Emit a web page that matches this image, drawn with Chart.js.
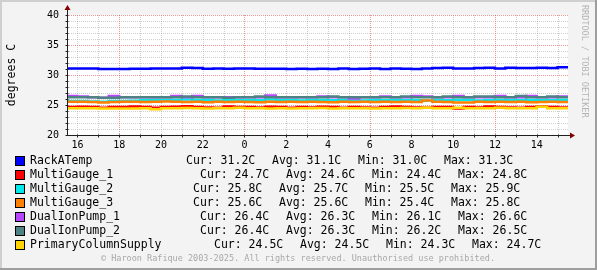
<!DOCTYPE html>
<html>
<head>
<meta charset="utf-8">
<script src="https://cdn.jsdelivr.net/npm/chart.js@4.4.1/dist/chart.umd.min.js"></script>
<style>
  html, body { margin: 0; padding: 0; background: #f3f3f3; }
  #wrap { width: 597px; height: 270px; }
</style>
</head>
<body>
<div id="wrap"><canvas id="temps" width="597" height="270"></canvas></div>
<script>
// time in hours since midnight of the first day (15:30 -> 15:30 next day)
const times = [15.5, 16, 16.5, 17, 17.5, 18, 18.5, 19, 19.5, 20, 20.5, 21, 21.5, 22, 22.5, 23, 23.5,
    24, 24.5, 25, 25.5, 26, 26.5, 27, 27.5, 28, 28.5, 29, 29.5, 30, 30.5, 31, 31.5, 32, 32.5,
    33, 33.5, 34, 34.5, 35, 35.5, 36, 36.5, 37, 37.5, 38, 38.5, 39, 39.5];
const hourTicks = [16, 17, 18, 19, 20, 21, 22, 23, 24, 25, 26, 27, 28, 29, 30, 31, 32, 33, 34, 35, 36, 37, 38, 39];
const degreeTicks = [20, 21, 22, 23, 24, 25, 26, 27, 28, 29, 30, 31, 32, 33, 34, 35, 36, 37, 38, 39, 40];

const rackATemp = [31.1, 31.1, 31.1, 31.0, 31.0, 31.0, 31.05, 31.05, 31.1, 31.1, 31.1, 31.2, 31.15, 31.05, 31.1, 31.05, 31.1,
    31.1, 31.05, 31.05, 31.05, 31.0, 31.05, 31.0, 31.05, 31.0, 31.1, 31.0, 31.05, 31.1, 31.0, 31.1, 31.05, 31.0, 31.1,
    31.15, 31.2, 31.1, 31.1, 31.15, 31.2, 31.1, 31.2, 31.15, 31.15, 31.2, 31.15, 31.3, 31.2];
const multiGauge1 = [24.65, 24.7, 24.65, 24.55, 24.65, 24.65, 24.75, 24.65, 24.55, 24.65, 24.7, 24.8, 24.65, 24.6, 24.55, 24.75, 24.65,
    24.65, 24.6, 24.7, 24.65, 24.55, 24.65, 24.6, 24.7, 24.65, 24.55, 24.65, 24.6, 24.55, 24.65, 24.75, 24.65, 24.6, 24.55,
    24.65, 24.65, 24.4, 24.65, 24.6, 24.75, 24.65, 24.6, 24.55, 24.65, 24.75, 24.65, 24.6, 24.7];
const multiGauge2 = [25.65, 25.65, 25.6, 25.55, 25.65, 25.65, 25.7, 25.8, 25.85, 25.85, 25.85, 25.9, 25.85, 25.85, 25.75, 25.85, 25.85,
    25.8, 25.85, 25.9, 25.85, 25.85, 25.75, 25.85, 25.85, 25.8, 25.85, 25.85, 25.75, 25.85, 25.8, 25.85, 25.85, 25.8, 25.75,
    25.85, 25.8, 25.85, 25.85, 25.75, 25.85, 25.85, 25.8, 25.85, 25.85, 25.8, 25.85, 25.85, 25.8];
const multiGauge3 = [25.55, 25.55, 25.5, 25.4, 25.5, 25.55, 25.55, 25.5, 25.55, 25.6, 25.55, 25.5, 25.55, 25.45, 25.55, 25.5, 25.55,
    25.5, 25.45, 25.55, 25.5, 25.55, 25.5, 25.55, 25.5, 25.45, 25.55, 25.5, 25.55, 25.5, 25.55, 25.5, 25.55, 25.5, 25.75,
    25.55, 25.5, 25.4, 25.4, 25.55, 25.5, 25.55, 25.5, 25.55, 25.45, 25.5, 25.55, 25.5, 25.55];
const dualIonPump1 = [26.5, 26.4, 26.3, 26.2, 26.5, 26.3, 26.3, 26.3, 26.3, 26.3, 26.5, 26.3, 26.5, 26.3, 26.3, 26.3, 26.3,
    26.3, 26.3, 26.6, 26.3, 26.3, 26.3, 26.3, 26.4, 26.3, 26.3, 26.1, 26.3, 26.3, 26.4, 26.3, 26.3, 26.5, 26.4,
    26.3, 26.3, 26.5, 26.3, 26.3, 26.3, 26.5, 26.3, 26.3, 26.5, 26.3, 26.3, 26.4, 26.4];
const dualIonPump2 = [26.3, 26.3, 26.3, 26.2, 26.2, 26.3, 26.3, 26.3, 26.3, 26.3, 26.3, 26.4, 26.3, 26.3, 26.3, 26.2, 26.3,
    26.3, 26.4, 26.3, 26.3, 26.3, 26.3, 26.3, 26.3, 26.4, 26.3, 26.3, 26.3, 26.3, 26.3, 26.3, 26.4, 26.3, 26.3,
    26.3, 26.4, 26.3, 26.3, 26.4, 26.4, 26.3, 26.3, 26.5, 26.3, 26.3, 26.4, 26.3, 26.4];
const primaryColumnSupply = [24.45, 24.45, 24.45, 24.4, 24.4, 24.4, 24.4, 24.45, 24.3, 24.45, 24.45, 24.5, 24.45, 24.4, 24.45, 24.45, 24.55,
    24.45, 24.45, 24.4, 24.45, 24.4, 24.45, 24.45, 24.5, 24.4, 24.45, 24.45, 24.45, 24.4, 24.45, 24.45, 24.5, 24.45, 24.55,
    24.45, 24.45, 24.55, 24.45, 24.45, 24.45, 24.55, 24.45, 24.45, 24.45, 24.7, 24.45, 24.45, 24.5];

const seriesNames = ['RackATemp', 'MultiGauge_1', 'MultiGauge_2', 'MultiGauge_3', 'DualIonPump_1', 'DualIonPump_2', 'PrimaryColumnSupply'];
const curValues = [31.2, 24.7, 25.8, 25.6, 26.4, 26.4, 24.5];
const avgValues = [31.1, 24.6, 25.7, 25.6, 26.3, 26.3, 24.5];
const minValues = [31.0, 24.4, 25.5, 25.4, 26.1, 26.2, 24.3];
const maxValues = [31.3, 24.8, 25.9, 25.8, 26.6, 26.5, 24.7];

// styles
const seriesColors = ['#0000ff', '#ff0000', '#00e8e8', '#ff8000', '#b848ff', '#4f8383', '#ffd400'];
const statsX = [186, 200, 193, 193, 200, 200, 214];  // where "Cur:" starts on each legend row
const MONO = '"DejaVu Sans Mono", monospace';

const allSeries = [rackATemp, multiGauge1, multiGauge2, multiGauge3, dualIonPump1, dualIonPump2, primaryColumnSupply];

const datasets = allSeries.map((values, i) => ({
    label: seriesNames[i],
    data: values.map((v, j) => ({ x: times[j], y: v })),
    borderColor: seriesColors[i],
    backgroundColor: seriesColors[i],
    borderWidth: 2.5,
    pointRadius: 0,
    stepped: true,
    fill: false,
    order: 20 - i  // later series drawn on top, like rrdtool
}));

function hourLabel(v) {
    return (v % 2 === 0) ? String(v % 24) : '';
}

const rrdLook = {
    id: 'rrdLook',
    beforeDraw(chart) {
        const ctx = chart.ctx;
        const a = chart.chartArea;
        ctx.save();
        ctx.fillStyle = '#f3f3f3';
        ctx.fillRect(0, 0, chart.width, chart.height);
        // 3d frame
        ctx.fillStyle = '#cfcfcf';
        ctx.fillRect(0, 0, chart.width, 2);
        ctx.fillRect(0, 0, 2, chart.height);
        ctx.fillStyle = '#9e9e9e';
        ctx.fillRect(0, chart.height - 2, chart.width, 2);
        ctx.fillRect(chart.width - 2, 0, 2, chart.height);
        ctx.fillStyle = '#ffffff';
        ctx.fillRect(a.left, a.top, a.right - a.left, a.bottom - a.top);
        ctx.restore();
    },
    beforeDatasetsDraw(chart) {
        const ctx = chart.ctx;
        const a = chart.chartArea;
        const xs = chart.scales.x, ys = chart.scales.y;
        ctx.save();
        ctx.lineWidth = 1;
        ctx.setLineDash([1, 1]);
        const pass = (major) => {
            ctx.strokeStyle = major ? 'rgba(222,48,48,0.5)' : 'rgba(143,143,143,0.42)';
            ctx.beginPath();
            hourTicks.forEach(h => {
                if ((h % 6 === 0) !== major) return;
                const px = Math.round(xs.getPixelForValue(h)) + 0.5;
                ctx.moveTo(px, a.top);
                ctx.lineTo(px, a.bottom);
            });
            degreeTicks.forEach(d => {
                if ((d % 5 === 0) !== major) return;
                const py = Math.round(ys.getPixelForValue(d)) + 0.5;
                ctx.moveTo(a.left, py);
                ctx.lineTo(a.right, py);
            });
            ctx.stroke();
        };
        pass(false);
        pass(true);
        ctx.restore();
    },
    afterDatasetsDraw(chart) {
        const ctx = chart.ctx;
        const a = chart.chartArea;
        const xs = chart.scales.x, ys = chart.scales.y;
        const left = Math.round(a.left) + 0.5;
        const bottom = Math.round(a.bottom) + 0.5;
        ctx.save();

        // axes
        ctx.strokeStyle = '#202020';
        ctx.lineWidth = 1;
        ctx.beginPath();
        ctx.moveTo(left, bottom);
        ctx.lineTo(left, a.top - 6);
        ctx.moveTo(left, bottom);
        ctx.lineTo(a.right + 4, bottom);
        hourTicks.forEach(h => {
            const px = Math.round(xs.getPixelForValue(h)) + 0.5;
            ctx.moveTo(px, bottom - 1);
            ctx.lineTo(px, bottom + 2);
        });
        degreeTicks.forEach(d => {
            const py = Math.round(ys.getPixelForValue(d)) + 0.5;
            ctx.moveTo(left - 2, py);
            ctx.lineTo(left + 1, py);
        });
        ctx.stroke();

        // arrows
        ctx.fillStyle = '#800000';
        ctx.beginPath();
        ctx.moveTo(left - 3, a.top - 5);
        ctx.lineTo(left + 3, a.top - 5);
        ctx.lineTo(left, a.top - 10);
        ctx.closePath();
        ctx.fill();
        ctx.beginPath();
        ctx.moveTo(a.right + 2, bottom - 3);
        ctx.lineTo(a.right + 2, bottom + 3);
        ctx.lineTo(a.right + 7, bottom);
        ctx.closePath();
        ctx.fill();

        // y title
        ctx.fillStyle = '#000';
        ctx.font = '11.5px ' + MONO;
        ctx.textAlign = 'center';
        ctx.textBaseline = 'middle';
        ctx.save();
        ctx.translate(12, (a.top + a.bottom) / 2);
        ctx.rotate(-Math.PI / 2);
        ctx.fillText('degrees C', 0, 0);
        ctx.restore();

        // watermark on the right
        ctx.save();
        ctx.fillStyle = '#b4b4b4';
        ctx.font = '8.5px ' + MONO;
        ctx.textAlign = 'left';
        ctx.translate(584, 5);
        ctx.rotate(Math.PI / 2);
        ctx.fillText('RRDTOOL / TOBI OETIKER', 0, 0);
        ctx.restore();

        // legend
        ctx.font = '11.5px ' + MONO;
        ctx.textAlign = 'left';
        ctx.textBaseline = 'middle';
        seriesNames.forEach((name, i) => {
            const rowY = 161 + i * 14;
            ctx.fillStyle = seriesColors[i];
            ctx.fillRect(15, rowY - 5, 10, 10);
            ctx.strokeStyle = '#000';
            ctx.strokeRect(15.5, rowY - 4.5, 9, 9);
            ctx.fillStyle = '#000';
            ctx.fillText(name, 30, rowY);
            const x0 = statsX[i];
            ctx.fillText('Cur: ' + curValues[i].toFixed(1) + 'C', x0, rowY);
            ctx.fillText('Avg: ' + avgValues[i].toFixed(1) + 'C', x0 + 86, rowY);
            ctx.fillText('Min: ' + minValues[i].toFixed(1) + 'C', x0 + 172, rowY);
            ctx.fillText('Max: ' + maxValues[i].toFixed(1) + 'C', x0 + 258, rowY);
        });

        // footer
        ctx.fillStyle = '#a8a8a8';
        ctx.font = '8.5px ' + MONO;
        ctx.textAlign = 'center';
        ctx.fillText('\u00a9 Haroon Rafique 2003-2025. All rights reserved. Unauthorised use prohibited.', 298, 259);
        ctx.restore();
    }
};

new Chart(document.getElementById('temps'), {
    type: 'line',
    data: { datasets: datasets },
    options: {
        responsive: false,
        devicePixelRatio: 1,
        animation: false,
        events: [],
        layout: { padding: { left: 0, top: 15, right: 29, bottom: 115 } },
        plugins: { legend: { display: false }, tooltip: { enabled: false } },
        scales: {
            x: {
                type: 'linear',
                min: 15.5,
                max: 39.5,
                afterBuildTicks: s => { s.ticks = hourTicks.map(v => ({ value: v })); },
                afterFit: s => { s.height = 20; },
                grid: { display: false, drawTicks: false },
                border: { display: false },
                ticks: {
                    autoSkip: false,
                    maxRotation: 0,
                    padding: 4,
                    color: '#000',
                    font: { family: MONO, size: 10 },
                    callback: v => hourLabel(v)
                }
            },
            y: {
                min: 20,
                max: 40,
                afterBuildTicks: s => { s.ticks = degreeTicks.map(v => ({ value: v })); },
                afterFit: s => { s.width = 67; },
                grid: { display: false, drawTicks: false },
                border: { display: false },
                ticks: {
                    autoSkip: false,
                    padding: 8,
                    color: '#000',
                    font: { family: MONO, size: 10 },
                    callback: v => (v % 5 === 0 ? String(v) : '')
                }
            }
        }
    },
    plugins: [rrdLook]
});
</script>
</body>
</html>
